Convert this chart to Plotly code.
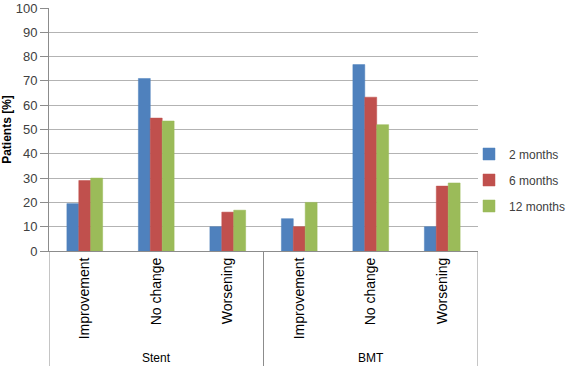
import plotly.graph_objects as go

groups = ["Stent", "BMT"]
outcomes = ["Improvement", "No change", "Worsening"]
series_names = ["2 months", "6 months", "12 months"]
colors = ["#4F81BD", "#C0504D", "#9BBB59"]
# values: Stent (Improvement, No change, Worsening), BMT (Improvement, No change, Worsening)
v_2m = [19.5, 71.0, 10.0, 13.3, 76.7, 10.0]
v_6m = [29.0, 54.7, 16.0, 10.0, 63.3, 26.7]
v_12m = [30.0, 53.5, 16.8, 20.0, 52.0, 28.0]
y_max = 100
y_step = 10

x_labels = [o for g in groups for o in outcomes]
x_pos = list(range(len(x_labels)))

fig = go.Figure()
for i, (name, vals) in enumerate(zip(series_names, [v_2m, v_6m, v_12m])):
    fig.add_trace(go.Bar(
        x=x_pos, y=vals, name=name, marker_color=colors[i],
        marker_line=dict(color=colors[i], width=0.5),
        legendgroup=name,
    ))

font_fam = "Liberation Sans, Arial, sans-serif"
W, H = 567, 366
ML, MR, MT, MB = 49, 89, 8, 115
fig.update_layout(
    width=W, height=H,
    margin=dict(l=ML, r=MR, t=MT, b=MB, autoexpand=False),
    plot_bgcolor="white", paper_bgcolor="white",
    barmode="group", bargap=0.5, bargroupgap=0,
    font=dict(family=font_fam, color="#404040", size=13),
    legend=dict(xref="container", yref="container",
                x=469 / W, y=1 - 180 / H, xanchor="left", yanchor="middle",
                font=dict(size=12, color="#404040"), tracegroupgap=7,
                itemwidth=30, bgcolor="rgba(0,0,0,0)"),
    showlegend=True,
)
fig.update_yaxes(
    range=[0, y_max], tickmode="linear", tick0=0, dtick=y_step,
    showgrid=True, gridcolor="#b3b3b3",
    gridwidth=1, showline=True, linecolor="#8c8c8c", linewidth=1,
    ticks="outside", ticklen=8, tickcolor="#8c8c8c",
    tickfont=dict(size=13, color="#404040"),
    title=dict(text="<b>Patients [%]</b>", font=dict(size=12, color="#000000"), standoff=11),
    zeroline=False, automargin=False,
)
fig.update_xaxes(
    range=[-0.5, len(x_labels) - 0.5], tickvals=x_pos, ticktext=x_labels,
    tickangle=-90, showline=True, linecolor="#8c8c8c", linewidth=1,
    ticks="", tickfont=dict(size=14, color="#000000"), showgrid=False,
    zeroline=False, automargin=False,
)
plot_h = H - MT - MB
bottom = -MB / plot_h
for xv in [-0.5, 2.5, 5.5]:
    fig.add_shape(type="line", xref="x", yref="paper", x0=xv, x1=xv, y0=0, y1=bottom,
                  line=dict(color="#8c8c8c", width=1))
for gi, g in enumerate(groups):
    fig.add_annotation(x=gi * 3 + 1, xref="x", y=-(358 - (H - MB)) / plot_h, yref="paper",
                       yanchor="middle", text=g, showarrow=False,
                       font=dict(size=12, color="#000000"))

fig.write_html("out.html", config={"displayModeBar": False},
               post_script="document.body.style.margin='0';document.body.style.overflow='hidden';")
